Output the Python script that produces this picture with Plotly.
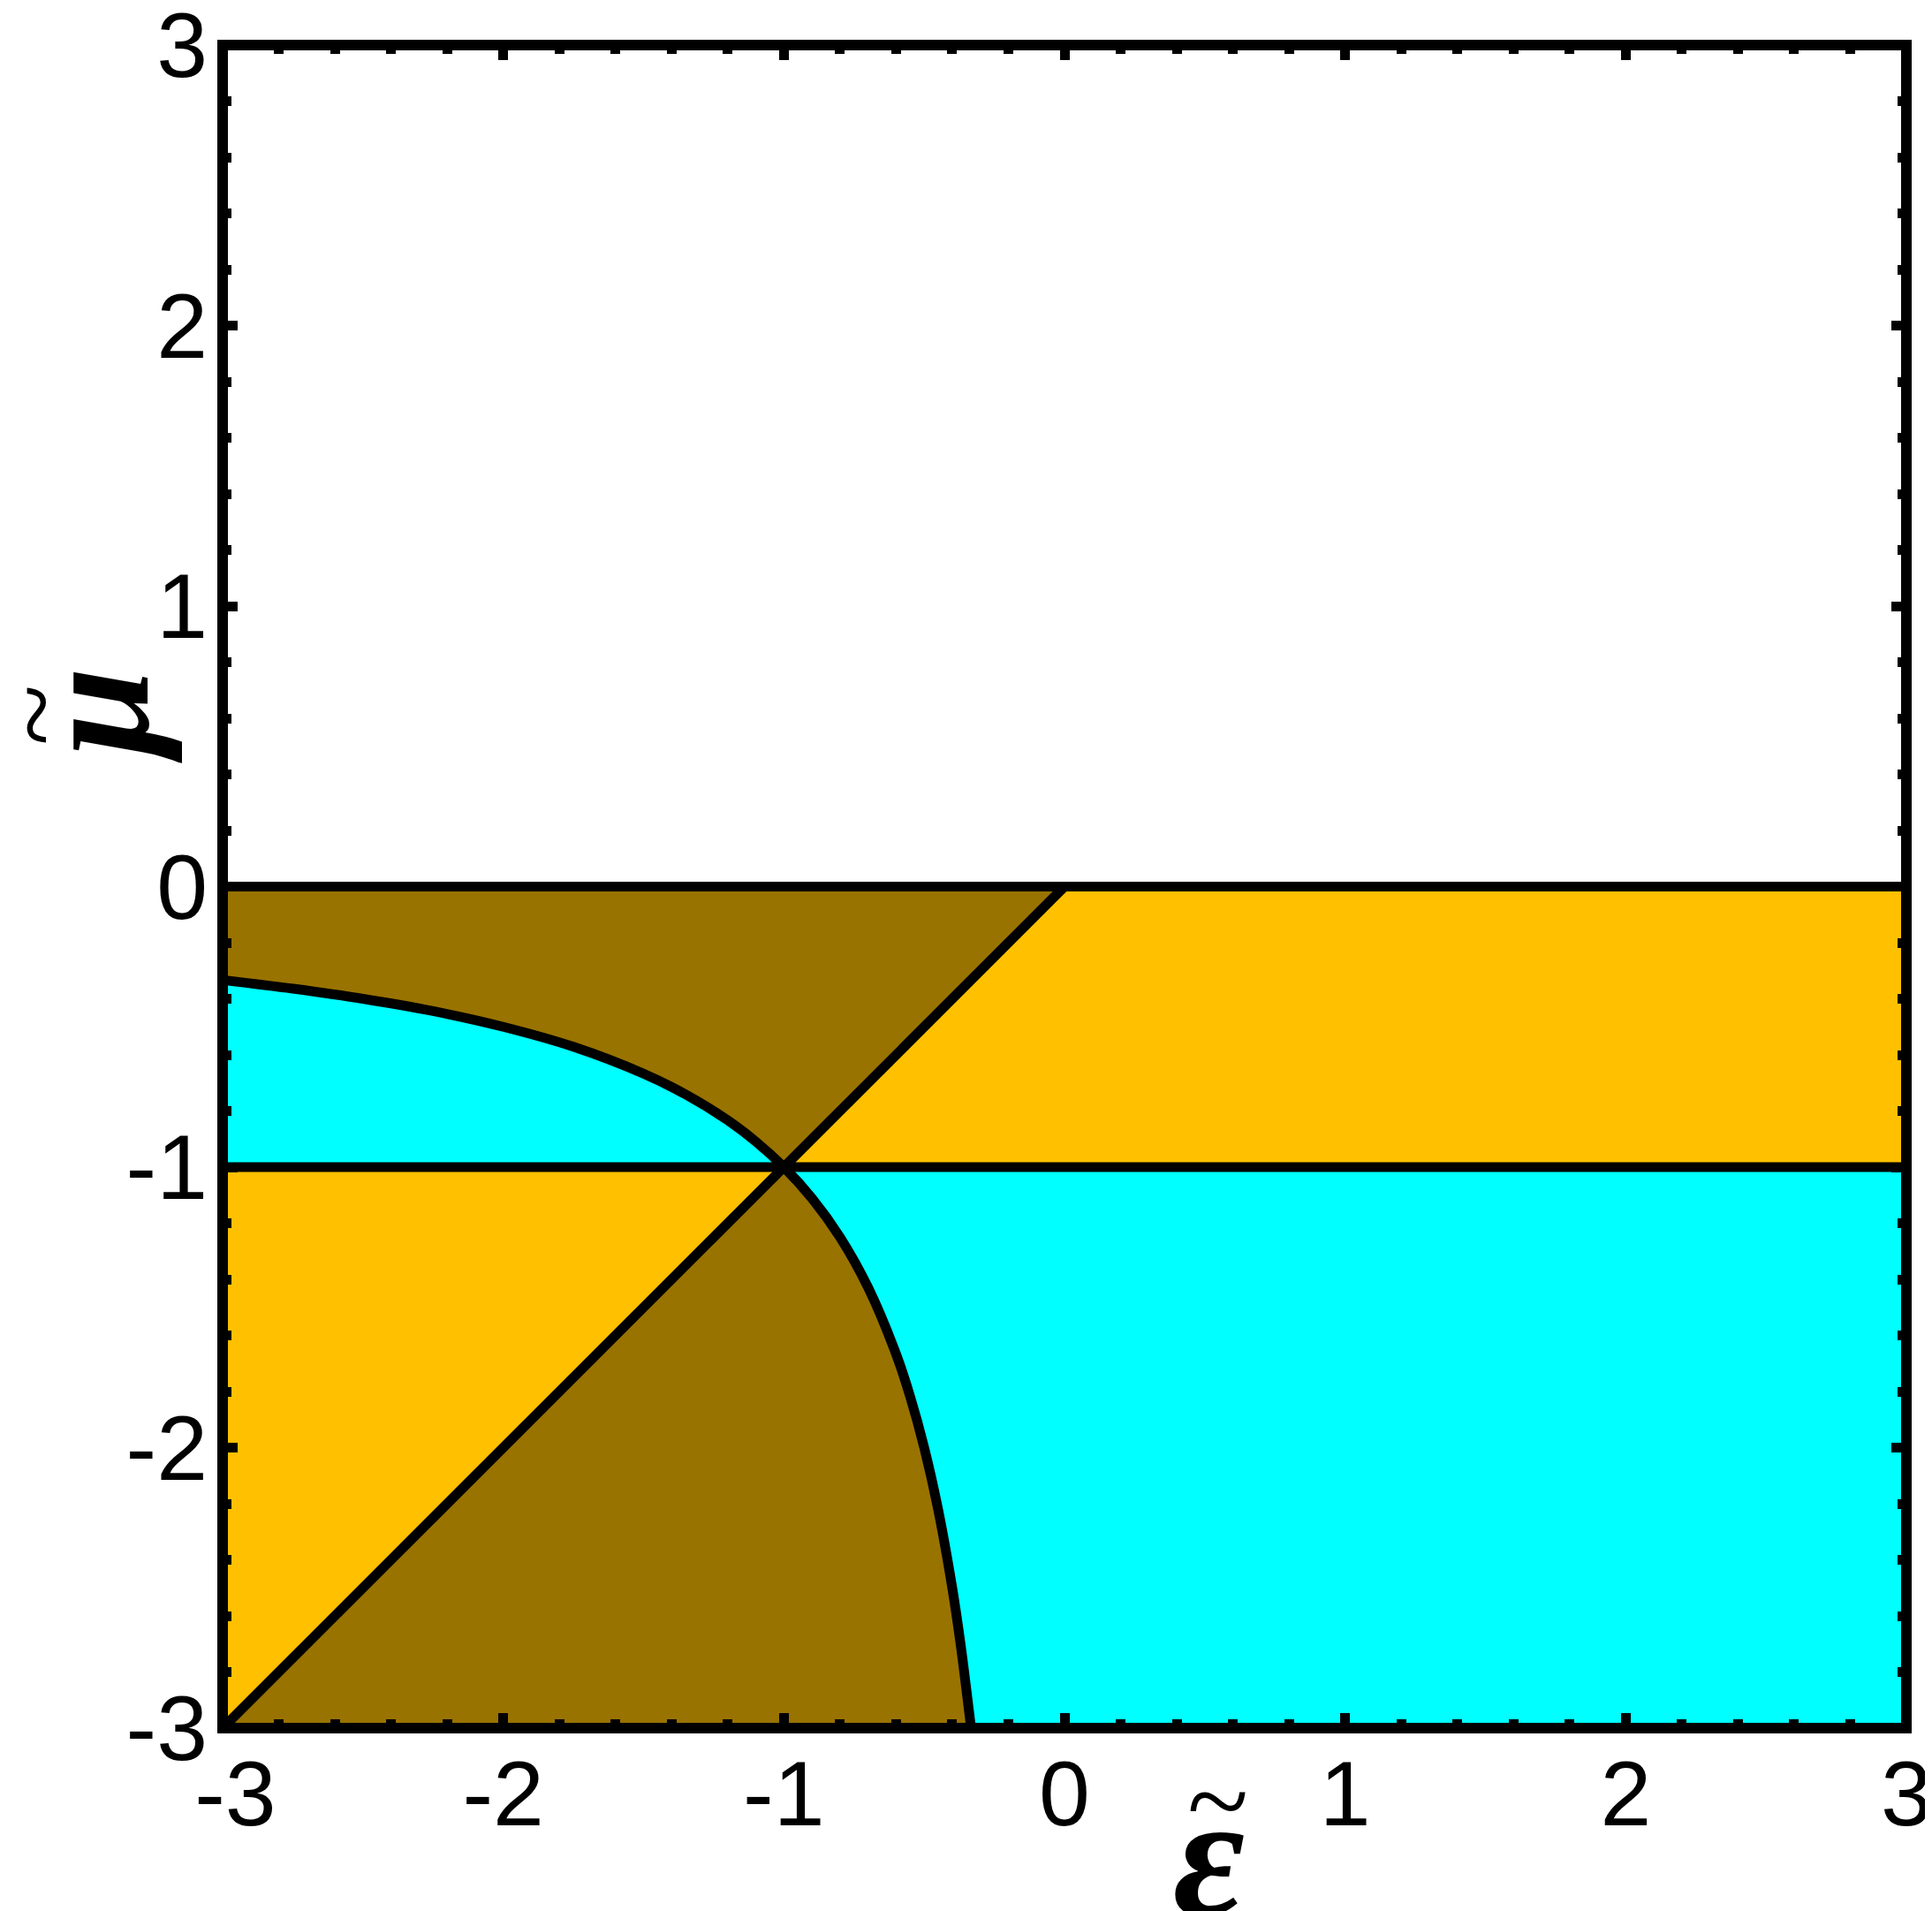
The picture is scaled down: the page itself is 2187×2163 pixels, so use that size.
import plotly.graph_objects as go

# ---- data ----
x_range = [-3, 3]
y_range = [-3, 3]
tick_vals = [-3, -2, -1, 0, 1, 2, 3]
y_tick_text = ["-3", "-2", "-1", "0", "1", "2", "3"]
x_tick_text = ["\u00a0-3", "-2", "-1", "0", "1", "2", "3"]

level_top = 0.0     # upper horizontal boundary
level_mid = -1.0    # middle horizontal boundary

diag_x = [-3.0, 0.0]
diag_y = [-3.0, 0.0]

curve_x = [-3.0, -2.75, -2.5, -2.25, -2.0, -1.75, -1.5, -1.35, -1.2, -1.1, -1.0,
           -0.9, -0.8, -0.7, -0.6, -0.55, -0.5, -0.45, -0.4, -0.37, -0.333]
curve_y = [-0.333, -0.364, -0.4, -0.444, -0.5, -0.571, -0.667, -0.741, -0.833, -0.909, -1.0,
           -1.111, -1.25, -1.429, -1.667, -1.818, -2.0, -2.222, -2.5, -2.703, -3.0]

YELLOW = "#FFC000"
BROWN = "#997300"
CYAN = "#00FFFF"

# ---- build regions ----
i_mid = curve_x.index(-1.0)
cu_x, cu_y = curve_x[:i_mid + 1], curve_y[:i_mid + 1]     # from x=-3 to x=-1
cl_x, cl_y = curve_x[i_mid:], curve_y[i_mid:]             # from x=-1 to the bottom
xmin, xmax = x_range
ymin, ymax = y_range

regions = [
    (BROWN, [xmin, diag_x[1], level_mid] + cu_x[::-1],
            [level_top, diag_y[1], level_mid] + cu_y[::-1]),
    (CYAN, cu_x + [xmin], cu_y + [level_mid]),
    (YELLOW, [diag_x[1], xmax, xmax, level_mid],
             [level_top, level_top, level_mid, level_mid]),
    (YELLOW, [xmin, level_mid, diag_x[0]], [level_mid, level_mid, diag_y[0]]),
    (BROWN, [level_mid, diag_x[0]] + cl_x[::-1], [level_mid, diag_y[0]] + cl_y[::-1]),
    (CYAN, cl_x + [xmax, xmax], cl_y + [ymin, level_mid]),
]

fig = go.Figure()
for col, xs, ys in regions:
    fig.add_trace(go.Scatter(x=xs, y=ys, mode="lines", fill="toself", fillcolor=col,
                             line=dict(width=0, color=col), hoverinfo="skip", showlegend=False))

LW = 11
line_style = dict(color="black", width=LW)
fig.add_trace(go.Scatter(x=[xmin, xmax], y=[level_top, level_top], mode="lines",
                         line=line_style, showlegend=False))
fig.add_trace(go.Scatter(x=[xmin, xmax], y=[level_mid, level_mid], mode="lines",
                         line=line_style, showlegend=False))
fig.add_trace(go.Scatter(x=diag_x, y=diag_y, mode="lines", line=line_style, showlegend=False))
fig.add_trace(go.Scatter(x=curve_x, y=curve_y, mode="lines",
                         line=dict(color="black", width=LW, shape="spline"), showlegend=False))

# page has an 8px body margin: figure is placed at (8, 8)
OFF = 8
PAGE_W, PAGE_H = 2187, 2163
W, H = PAGE_W - OFF, PAGE_H - OFF
# plotting-area edges in page pixels
L, R, T, B = 252, 2158, 51, 1956
FRAME_W = 12

tickfont = dict(family="Liberation Sans, Arial, sans-serif", size=104, color="black")
axis_common = dict(
    tickvals=tick_vals, tickfont=tickfont,
    showgrid=False, zeroline=False, showline=False,
    mirror="ticks", ticks="inside", ticklen=17, tickwidth=11, tickcolor="black",
    ticklabeloverflow="allow", automargin=False,
    minor=dict(dtick=0.2, tick0=-3, ticks="inside", ticklen=10, tickwidth=11, tickcolor="black",
               showgrid=False),
)
fig.update_xaxes(**axis_common, range=x_range, ticktext=x_tick_text, ticklabelstandoff=5)
fig.update_yaxes(**axis_common, range=y_range, ticktext=y_tick_text, ticklabelstandoff=16)

# frame centred on the plotting-area edges
fig.add_shape(type="rect", xref="paper", yref="paper", x0=0, x1=1, y0=0, y1=1,
              line=dict(color="black", width=FRAME_W), fillcolor="rgba(0,0,0,0)", layer="above")

def px_to_paper_x(px):
    return (px - L) / (R - L)

def px_to_paper_y(py):
    return (B - py) / (B - T)

serif = "Liberation Serif, Times New Roman, serif"
annotations = [
    dict(text="<b><i>ε</i></b>", x=px_to_paper_x(1368), y=px_to_paper_y(2100),
         font=dict(family=serif, size=198, color="black")),
    dict(text="~", x=px_to_paper_x(1378), y=px_to_paper_y(2038),
         font=dict(family=serif, size=128, color="black")),
    dict(text="<b><i>μ</i></b>", x=px_to_paper_x(105), y=px_to_paper_y(810), textangle=-90,
         font=dict(family=serif, size=182, color="black")),
    dict(text="~", x=px_to_paper_x(40), y=px_to_paper_y(810), textangle=-90,
         font=dict(family=serif, size=128, color="black")),
]
for a in annotations:
    a.update(xref="paper", yref="paper", showarrow=False, xanchor="center", yanchor="middle")

fig.update_layout(
    width=W, height=H,
    margin=dict(l=L - OFF, r=PAGE_W - R, t=T - OFF, b=PAGE_H - B, pad=0, autoexpand=False),
    plot_bgcolor="white", paper_bgcolor="white",
    annotations=annotations,
)

fig.write_html("out.html")
